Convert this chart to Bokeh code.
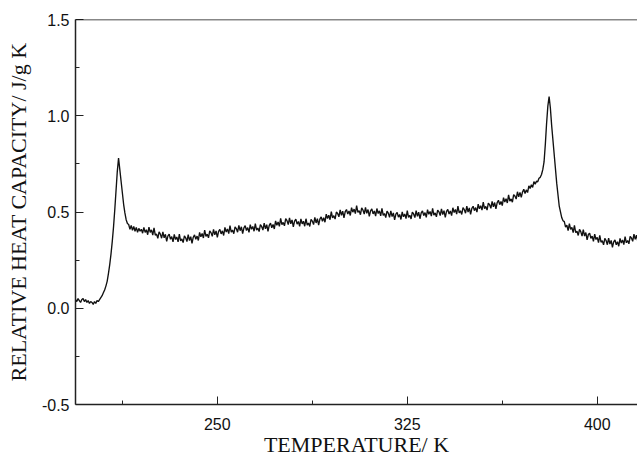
import numpy as np
from bokeh.plotting import figure
from bokeh.models import FixedTicker, Span, Range1d
from bokeh.embed import file_html
from bokeh.resources import INLINE

# ---- data ----
# baseline, first transition peak and its tail (T in K, Cp in J/g K)
t_start = [194, 194.5, 195, 195.5, 196, 196.5, 197, 197.5, 198, 198.5, 199, 199.5,
           200, 200.5, 201, 201.5, 202, 202.5, 203, 203.5, 204, 204.5, 205, 205.5,
           206, 206.5, 207, 207.5, 208, 208.5, 209, 209.5, 210, 210.5, 211, 211.5,
           212, 212.5, 213, 213.5, 214, 214.5, 215, 215.5, 216, 216.5, 217, 217.5,
           218, 218.5, 219, 219.5, 220, 220.5]
cp_start = [0.045, 0.035, 0.050, 0.040, 0.030, 0.045, 0.050, 0.035, 0.045, 0.030, 0.040, 0.025,
            0.035, 0.030, 0.020, 0.035, 0.025, 0.040, 0.035, 0.045, 0.055, 0.065, 0.080, 0.095,
            0.115, 0.140, 0.180, 0.225, 0.280, 0.345, 0.420, 0.510, 0.610, 0.710, 0.780, 0.720,
            0.660, 0.600, 0.540, 0.495, 0.460, 0.440, 0.435, 0.410, 0.430, 0.405, 0.425, 0.400,
            0.420, 0.395, 0.415, 0.400, 0.410, 0.390]

# noisy middle region, 221 K to 378.5 K every 0.5 K
t_mid = np.arange(221.0, 379.0, 0.5)
cp_mid = [0.420, 0.394, 0.408, 0.382, 0.421, 0.394, 0.407, 0.380, 0.418, 0.380,
          0.385, 0.363, 0.397, 0.385, 0.364, 0.397, 0.366, 0.384, 0.348, 0.376, 0.385, 0.358, 0.372, 0.345, 0.384, 0.357,
          0.370, 0.345, 0.385, 0.350, 0.360, 0.341, 0.376, 0.366, 0.346, 0.382, 0.352, 0.372,
          0.337, 0.369, 0.381, 0.358, 0.375, 0.352, 0.394, 0.371, 0.388, 0.365, 0.406, 0.373,
          0.385, 0.366, 0.402, 0.393, 0.374, 0.410, 0.381, 0.402, 0.368, 0.399, 0.410, 0.386, 0.402, 0.378,
          0.420, 0.396, 0.412, 0.388, 0.429, 0.395, 0.406, 0.387, 0.423, 0.414, 0.395, 0.431,
          0.403, 0.423, 0.388, 0.418, 0.429, 0.404, 0.419, 0.394, 0.434, 0.410, 0.425, 0.400,
          0.440, 0.406, 0.417, 0.398, 0.434, 0.425, 0.406, 0.442, 0.413, 0.434, 0.400, 0.431, 0.442, 0.418,
          0.435, 0.412, 0.454, 0.431, 0.448, 0.425, 0.467, 0.434, 0.446, 0.428,
          0.465, 0.455, 0.435, 0.469, 0.439, 0.459, 0.423, 0.453,
          0.463, 0.437, 0.451, 0.425, 0.464, 0.438, 0.452, 0.426,
          0.465, 0.432, 0.443, 0.425, 0.462, 0.453, 0.435, 0.472, 0.443, 0.465, 0.432, 0.463, 0.475, 0.452,
          0.470, 0.447, 0.489, 0.466, 0.483, 0.460, 0.502, 0.469, 0.481, 0.463, 0.500, 0.492,
          0.475, 0.511, 0.483, 0.504, 0.470, 0.502, 0.513, 0.489, 0.505, 0.482, 0.523, 0.499, 0.515, 0.492,
          0.533, 0.498, 0.507, 0.486, 0.521, 0.510, 0.489, 0.524, 0.493, 0.513, 0.477, 0.506, 0.516, 0.490,
          0.505, 0.479, 0.518, 0.492, 0.506, 0.480, 0.519, 0.483, 0.492, 0.471, 0.505, 0.494,
          0.472, 0.506, 0.476, 0.495, 0.459, 0.489, 0.498, 0.473, 0.487, 0.461, 0.501, 0.475,
          0.490, 0.466, 0.507, 0.472, 0.483, 0.464, 0.500, 0.490, 0.471, 0.507, 0.478, 0.499,
          0.465, 0.495, 0.506, 0.481, 0.497, 0.472, 0.512, 0.488, 0.503, 0.479,
          0.519, 0.484, 0.495, 0.475, 0.510, 0.501, 0.481, 0.516, 0.487, 0.507,
          0.472, 0.503, 0.514, 0.489, 0.505, 0.481, 0.522, 0.497, 0.513, 0.489,
          0.530, 0.495, 0.506, 0.487, 0.523, 0.513, 0.494, 0.530,
          0.500, 0.521, 0.488, 0.519, 0.530, 0.507, 0.523, 0.499, 0.541, 0.517,
          0.533, 0.510, 0.551, 0.517, 0.529, 0.510, 0.546, 0.538, 0.519, 0.555,
          0.527, 0.549, 0.516, 0.549, 0.561, 0.538, 0.555, 0.533,
          0.575, 0.552, 0.569, 0.547, 0.589, 0.556, 0.568, 0.551,
          0.590, 0.583, 0.567, 0.605, 0.579, 0.602, 0.576, 0.604, 0.618, 0.596,
          0.615, 0.601, 0.636, 0.622, 0.642, 0.628, 0.658, 0.644, 0.660, 0.657,
          0.675, 0.680, 0.695, 0.720]

# second transition peak
t_peak = [379, 379.5, 380, 380.5, 381, 381.5, 382, 383, 384, 385, 386, 386.5]
cp_peak = [0.76, 0.85, 0.96, 1.05, 1.10, 1.04, 0.95, 0.80, 0.65, 0.53, 0.47, 0.455]

# noisy tail, 387 K to 416.5 K every 0.5 K
t_end = np.arange(387.0, 417.0, 0.5)
cp_end = [0.450, 0.421, 0.432, 0.403, 0.439, 0.410, 0.420, 0.393, 0.430, 0.393,
          0.400, 0.378, 0.410, 0.398, 0.375, 0.408, 0.375, 0.393, 0.355, 0.383,
          0.390, 0.363, 0.375, 0.348, 0.385, 0.357, 0.368, 0.341, 0.379, 0.343,
          0.351, 0.329, 0.363, 0.352, 0.330, 0.364, 0.333, 0.352, 0.316, 0.345,
          0.355, 0.330, 0.346, 0.322, 0.363, 0.339, 0.355, 0.331, 0.372, 0.340,
          0.352, 0.335, 0.373, 0.365, 0.348, 0.385, 0.358, 0.380, 0.348, 0.380]

x_major = [250, 325, 400]
x_minor = [212.5, 287.5, 362.5]
y_major = [-0.5, 0.0, 0.5, 1.0, 1.5]
y_minor = [-0.25, 0.25, 0.75, 1.25]
x_labels = {250: "250", 325: "325", 400: "400"}
y_labels = {-0.5: "-0.5", 0.0: "0.0", 0.5: "0.5", 1.0: "1.0", 1.5: "1.5"}

assert len(t_start) == len(cp_start)
assert len(t_mid) == len(cp_mid), (len(t_mid), len(cp_mid))
assert len(t_peak) == len(cp_peak)
assert len(t_end) == len(cp_end), (len(t_end), len(cp_end))

T = list(t_start) + list(t_mid) + list(t_peak) + list(t_end)
CP = cp_start + cp_mid + cp_peak + cp_end

p = figure(width=637, height=459, output_backend="svg", toolbar_location=None,
           x_range=Range1d(194.0, 415.9), y_range=Range1d(-0.5, 1.5),
           min_border_left=75, min_border_right=0, min_border_top=19,
           min_border_bottom=55)
p.outline_line_color = None
p.xgrid.visible = False
p.ygrid.visible = False
p.background_fill_color = "white"

p.line(T, CP, line_color="#111111", line_width=1.35)

p.add_layout(Span(location=1.5, dimension="width", line_color="#111111", line_width=1.5))

xa = p.xaxis[0]
xa.ticker = FixedTicker(ticks=x_major, minor_ticks=x_minor)
xa.major_label_overrides = x_labels
ya = p.yaxis[0]
ya.ticker = FixedTicker(ticks=y_major, minor_ticks=y_minor)
ya.major_label_overrides = y_labels

for ax in (xa, ya):
    ax.axis_line_color = "#222222"
    ax.axis_line_width = 1.5
    ax.major_tick_in = 8
    ax.major_tick_out = 0
    ax.minor_tick_in = 4
    ax.minor_tick_out = 0
    ax.major_tick_line_color = "#222222"
    ax.minor_tick_line_color = "#222222"
    ax.major_label_text_font = "Liberation Sans"
    ax.major_label_text_font_size = "16px"
    ax.major_label_text_color = "#111111"
    ax.axis_label_text_font = "Liberation Serif"
    ax.axis_label_text_font_style = "normal"
    ax.axis_label_text_color = "#111111"
    ax.axis_label_text_font_size = "22px"

xa.axis_label = "TEMPERATURE/ K"
xa.major_label_standoff = 13
xa.axis_label_standoff = -1

ya.axis_label = "RELATIVE HEAT CAPACITY/ J/g K"
ya.major_label_standoff = 6
ya.axis_label_standoff = 8

open("out.html", "w").write(file_html(p, INLINE))
